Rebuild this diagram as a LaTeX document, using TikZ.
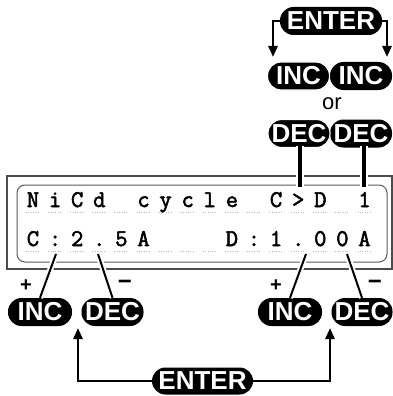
\documentclass[tikz,border=0pt]{standalone}
\usepackage{fontspec}
\setmainfont{Liberation Sans}
\newfontfamily\lcdfont[FakeBold=2.2]{Latin Modern Mono}
\usetikzlibrary{arrows.meta}
\tikzset{
  pill/.style={fill=black, text=white, rounded corners=13.5pt, inner sep=0pt,
    minimum height=28pt, font=\bfseries\fontsize{26}{26}\selectfont},
  lcd/.style={anchor=base, inner sep=0pt, font=\lcdfont\fontsize{24}{24}\selectfont},
  arr/.style={line width=2.5pt, -{Triangle[length=11pt,width=9pt]}},
  halo/.style={preaction={draw=white, line width=6pt}},
  lead/.style={line width=2pt, halo},
  sign/.style={inner sep=0pt, font=\bfseries\fontsize{20}{20}\selectfont},
  minus/.style={inner sep=0pt, font=\bfseries\fontsize{24}{24}\selectfont},
  dotu/.style={draw=gray!55, line width=0.8pt, dash pattern=on 1pt off 1.4pt}
}
\begin{document}
\begin{tikzpicture}[x=1pt,y=-1pt]
\useasboundingbox (0,0) rectangle (393,396);
% display
\draw[draw=black!70, line width=1.4pt] (7,176) rectangle (392,269);
\draw[draw=black!65, line width=1pt, rounded corners=8pt] (17,185) rectangle (387,262);
\foreach \i in {0,...,15}{
  \draw[dotu] ({33+22.1*\i-7},212) -- ({33+22.1*\i+7},212);
  \draw[dotu] ({33+22.1*\i-7},251) -- ({33+22.1*\i+7},251);
}
\foreach \i/\c in {0/N,1/i,2/C,3/d,5/c,6/y,7/c,8/l,9/e,11/C,12/>,13/D,15/1}
  \node[lcd] (a\i) at ({33+22.1*\i},207) {\c};
\foreach \i/\c in {0/C,1/:,2/2,3/.,4/5,5/A,9/D,10/:,11/1,12/.,13/0,14/0,15/A}
  \node[lcd] (b\i) at ({33+22.1*\i},246) {\c};
% top buttons
\node[pill, minimum width=102pt] (te) at (331,21) {ENTER};
\node[pill, minimum width=62pt] (ti1) at (298.5,76) {INC};
\node[pill, minimum width=62pt] (ti2) at (361,76) {INC};
\node[inner sep=0pt, font=\fontsize{22}{22}\selectfont] (or) at (332,104) {or};
\node[pill, minimum width=62pt] (td1) at (299,133.5) {DEC};
\node[pill, minimum width=62pt] (td2) at (361,133.5) {DEC};
\draw[draw=white, line width=1.2pt, rounded corners=13.5pt] (267.5,62) rectangle (329.5,90);
\draw[draw=white, line width=1.2pt, rounded corners=13.5pt] (268,119.5) rectangle (330,147.5);
\coordinate (ta) at (273,57);
\coordinate (tb) at (387,57);
\draw[arr] (te.west) -| (ta);
\draw[arr] (te.east) -| (tb);
\coordinate (u1) at (300,146);
\coordinate (u2) at (364,146);
\coordinate (v1) at (300,187);
\coordinate (v2) at (364,187);
\draw[line width=3.5pt, preaction={draw=white, line width=8pt}] (v1) -- (u1);
\draw[line width=3.5pt, preaction={draw=white, line width=8pt}] (v2) -- (u2);
% bottom buttons
\node[pill, minimum width=64pt] (bi1) at (40,312) {INC};
\node[pill, minimum width=62pt] (bd1) at (112.5,312) {DEC};
\node[pill, minimum width=64pt] (bi2) at (290,312) {INC};
\node[pill, minimum width=61pt] (bd2) at (362,312) {DEC};
\node[pill, minimum width=101pt, minimum height=27pt] (be) at (202.5,381) {ENTER};
\coordinate (p1) at (56,254);
\coordinate (p2) at (98,254);
\coordinate (p3) at (306,254);
\coordinate (p4) at (347,254);
\draw[lead] (p1) -- (bi1.north);
\draw[lead] (p2) -- (bd1.north);
\draw[lead] (p3) -- (bi2.north);
\draw[lead] (p4) -- (bd2.north);
\node[sign] (s1) at (26,286) {+};
\node[minus] (s2) at (125,285) {−};
\node[sign] (s3) at (276,286) {+};
\node[minus] (s4) at (375,285) {−};
\coordinate (ba) at (78,328);
\coordinate (bb) at (330,328);
\draw[arr] (be.west) -| (ba);
\draw[arr] (be.east) -| (bb);
\end{tikzpicture}
\end{document}
